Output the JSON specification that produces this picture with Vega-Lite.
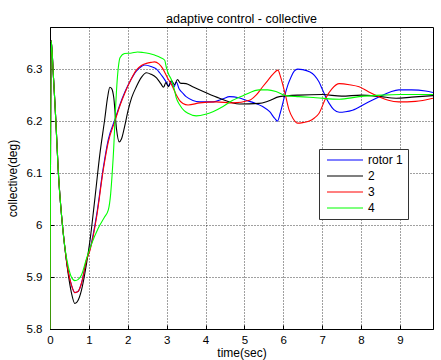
{
  "$schema": "https://vega.github.io/schema/vega-lite/v6.json",
  "autosize": {"type": "none"},
  "width": 383,
  "height": 302,
  "padding": {"left": 50, "top": 27, "right": 8, "bottom": 31},
  "background": "#ffffff",
  "title": {"text": "adaptive control - collective", "fontSize": 12.5, "fontWeight": "normal", "font": "Liberation Sans", "color": "#000000", "anchor": "middle", "frame": "group", "baseline": "alphabetic", "offset": 9, "dy": 17},
  "config": {
    "view": {"stroke": "#000000", "strokeWidth": 1},
    "font": "Liberation Sans",
    "axis": {"labelFont": "Liberation Sans", "titleFont": "Liberation Sans", "labelFontSize": 11.5, "titleFontSize": 12, "titleFontWeight": "normal", "labelColor": "#000", "titleColor": "#000", "domainColor": "#000", "tickColor": "#000", "gridColor": "#000", "gridDash": [1, 2], "gridOpacity": 0.75, "labelFlush": false, "labelOverlap": false, "tickSize": -4}
  },
  "data": {"values": [
    {"t":0,"v":5.8,"s":"rotor 1"},{"t":0.03,"v":6.355,"s":"rotor 1"},{"t":0.085,"v":6.29,"s":"rotor 1"},{"t":0.13,"v":6.23,"s":"rotor 1"},{"t":0.17,"v":6.17,"s":"rotor 1"},{"t":0.21,"v":6.108,"s":"rotor 1"},{"t":0.3,"v":6.016,"s":"rotor 1"},{"t":0.38,"v":5.958,"s":"rotor 1"},
    {"t":0.47,"v":5.91,"s":"rotor 1"},{"t":0.55,"v":5.885,"s":"rotor 1"},{"t":0.64,"v":5.87,"s":"rotor 1"},{"t":0.72,"v":5.872,"s":"rotor 1"},{"t":0.81,"v":5.888,"s":"rotor 1"},{"t":0.94,"v":5.933,"s":"rotor 1"},{"t":1.03,"v":5.954,"s":"rotor 1"},{"t":1.2,"v":6.02,"s":"rotor 1"},{"t":1.37,"v":6.11,"s":"rotor 1"},{"t":1.5,"v":6.165,"s":"rotor 1"},{"t":1.67,"v":6.203,"s":"rotor 1"},{"t":1.8,"v":6.232,"s":"rotor 1"},{"t":1.92,"v":6.255,"s":"rotor 1"},{"t":2.07,"v":6.278,"s":"rotor 1"},{"t":2.22,"v":6.296,"s":"rotor 1"},{"t":2.35,"v":6.305,"s":"rotor 1"},{"t":2.44,"v":6.308,"s":"rotor 1"},{"t":2.6,"v":6.305,"s":"rotor 1"},{"t":2.74,"v":6.3,"s":"rotor 1"},{"t":2.82,"v":6.293,"s":"rotor 1"},{"t":2.9,"v":6.285,"s":"rotor 1"},{"t":2.99,"v":6.275,"s":"rotor 1"},{"t":3.05,"v":6.268,"s":"rotor 1"},{"t":3.12,"v":6.276,"s":"rotor 1"},{"t":3.18,"v":6.265,"s":"rotor 1"},{"t":3.25,"v":6.275,"s":"rotor 1"},{"t":3.32,"v":6.262,"s":"rotor 1"},{"t":3.4,"v":6.255,"s":"rotor 1"},{"t":3.5,"v":6.247,"s":"rotor 1"},{"t":3.85,"v":6.237,"s":"rotor 1"},{"t":4.2,"v":6.237,"s":"rotor 1"},{"t":4.45,"v":6.243,"s":"rotor 1"},{"t":4.62,"v":6.247,"s":"rotor 1"},{"t":4.85,"v":6.245,"s":"rotor 1"},{"t":5.04,"v":6.24,"s":"rotor 1"},{"t":5.25,"v":6.235,"s":"rotor 1"},{"t":5.47,"v":6.228,"s":"rotor 1"},{"t":5.65,"v":6.218,"s":"rotor 1"},{"t":5.78,"v":6.205,"s":"rotor 1"},{"t":5.85,"v":6.2,"s":"rotor 1"},{"t":5.92,"v":6.215,"s":"rotor 1"},{"t":6.03,"v":6.247,"s":"rotor 1"},{"t":6.12,"v":6.27,"s":"rotor 1"},{"t":6.2,"v":6.285,"s":"rotor 1"},{"t":6.28,"v":6.296,"s":"rotor 1"},{"t":6.37,"v":6.3,"s":"rotor 1"},{"t":6.5,"v":6.299,"s":"rotor 1"},{"t":6.67,"v":6.295,"s":"rotor 1"},{"t":6.8,"v":6.288,"s":"rotor 1"},{"t":6.92,"v":6.275,"s":"rotor 1"},{"t":7.01,"v":6.26,"s":"rotor 1"},{"t":7.1,"v":6.245,"s":"rotor 1"},{"t":7.18,"v":6.234,"s":"rotor 1"},{"t":7.3,"v":6.222,"s":"rotor 1"},{"t":7.44,"v":6.217,"s":"rotor 1"},{"t":7.6,"v":6.218,"s":"rotor 1"},{"t":7.78,"v":6.221,"s":"rotor 1"},{"t":8.12,"v":6.234,"s":"rotor 1"},{"t":8.5,"v":6.248,"s":"rotor 1"},{"t":8.75,"v":6.256,"s":"rotor 1"},{"t":8.97,"v":6.26,"s":"rotor 1"},{"t":9.3,"v":6.26,"s":"rotor 1"},{"t":9.66,"v":6.258,"s":"rotor 1"},{"t":9.85,"v":6.255,"s":"rotor 1"},

    {"t":0,"v":5.8,"s":"2"},{"t":0.03,"v":6.355,"s":"2"},{"t":0.085,"v":6.29,"s":"2"},{"t":0.13,"v":6.23,"s":"2"},{"t":0.17,"v":6.17,"s":"2"},{"t":0.21,"v":6.108,"s":"2"},{"t":0.3,"v":6.016,"s":"2"},{"t":0.38,"v":5.958,"s":"2"},
    {"t":0.47,"v":5.905,"s":"2"},{"t":0.55,"v":5.87,"s":"2"},{"t":0.64,"v":5.849,"s":"2"},{"t":0.72,"v":5.855,"s":"2"},{"t":0.81,"v":5.875,"s":"2"},{"t":0.94,"v":5.926,"s":"2"},{"t":1.03,"v":5.971,"s":"2"},{"t":1.15,"v":6.048,"s":"2"},{"t":1.28,"v":6.135,"s":"2"},{"t":1.41,"v":6.205,"s":"2"},{"t":1.48,"v":6.245,"s":"2"},{"t":1.54,"v":6.265,"s":"2"},{"t":1.59,"v":6.262,"s":"2"},{"t":1.64,"v":6.245,"s":"2"},{"t":1.71,"v":6.185,"s":"2"},{"t":1.78,"v":6.16,"s":"2"},{"t":1.84,"v":6.166,"s":"2"},{"t":1.92,"v":6.19,"s":"2"},{"t":2.01,"v":6.221,"s":"2"},{"t":2.1,"v":6.245,"s":"2"},{"t":2.22,"v":6.266,"s":"2"},{"t":2.35,"v":6.284,"s":"2"},{"t":2.48,"v":6.293,"s":"2"},{"t":2.6,"v":6.29,"s":"2"},{"t":2.74,"v":6.283,"s":"2"},{"t":2.85,"v":6.272,"s":"2"},{"t":2.92,"v":6.265,"s":"2"},{"t":2.98,"v":6.274,"s":"2"},{"t":3.05,"v":6.266,"s":"2"},{"t":3.12,"v":6.278,"s":"2"},{"t":3.2,"v":6.27,"s":"2"},{"t":3.28,"v":6.28,"s":"2"},{"t":3.35,"v":6.273,"s":"2"},{"t":3.5,"v":6.272,"s":"2"},{"t":3.67,"v":6.266,"s":"2"},{"t":4.0,"v":6.255,"s":"2"},{"t":4.36,"v":6.244,"s":"2"},{"t":4.87,"v":6.233,"s":"2"},{"t":5.38,"v":6.234,"s":"2"},{"t":5.6,"v":6.238,"s":"2"},{"t":5.9,"v":6.247,"s":"2"},{"t":6.4,"v":6.25,"s":"2"},{"t":7.0,"v":6.251,"s":"2"},{"t":7.5,"v":6.248,"s":"2"},{"t":8.0,"v":6.25,"s":"2"},{"t":8.5,"v":6.247,"s":"2"},{"t":8.9,"v":6.244,"s":"2"},{"t":9.3,"v":6.246,"s":"2"},{"t":9.85,"v":6.249,"s":"2"},

    {"t":0,"v":5.8,"s":"3"},{"t":0.03,"v":6.355,"s":"3"},{"t":0.085,"v":6.29,"s":"3"},{"t":0.13,"v":6.23,"s":"3"},{"t":0.17,"v":6.17,"s":"3"},{"t":0.21,"v":6.108,"s":"3"},{"t":0.3,"v":6.016,"s":"3"},{"t":0.38,"v":5.958,"s":"3"},
    {"t":0.47,"v":5.91,"s":"3"},{"t":0.55,"v":5.885,"s":"3"},{"t":0.64,"v":5.87,"s":"3"},{"t":0.72,"v":5.872,"s":"3"},{"t":0.81,"v":5.888,"s":"3"},{"t":0.94,"v":5.933,"s":"3"},{"t":1.03,"v":5.952,"s":"3"},{"t":1.2,"v":6.016,"s":"3"},{"t":1.37,"v":6.106,"s":"3"},{"t":1.5,"v":6.16,"s":"3"},{"t":1.67,"v":6.2,"s":"3"},{"t":1.8,"v":6.23,"s":"3"},{"t":1.92,"v":6.253,"s":"3"},{"t":2.07,"v":6.278,"s":"3"},{"t":2.22,"v":6.298,"s":"3"},{"t":2.35,"v":6.307,"s":"3"},{"t":2.48,"v":6.311,"s":"3"},{"t":2.6,"v":6.313,"s":"3"},{"t":2.69,"v":6.314,"s":"3"},{"t":2.8,"v":6.31,"s":"3"},{"t":2.9,"v":6.301,"s":"3"},{"t":3.03,"v":6.282,"s":"3"},{"t":3.14,"v":6.268,"s":"3"},{"t":3.25,"v":6.25,"s":"3"},{"t":3.33,"v":6.24,"s":"3"},{"t":3.42,"v":6.234,"s":"3"},{"t":3.55,"v":6.231,"s":"3"},{"t":3.85,"v":6.235,"s":"3"},{"t":4.27,"v":6.237,"s":"3"},{"t":4.7,"v":6.235,"s":"3"},{"t":5.13,"v":6.24,"s":"3"},{"t":5.3,"v":6.25,"s":"3"},{"t":5.47,"v":6.266,"s":"3"},{"t":5.6,"v":6.278,"s":"3"},{"t":5.73,"v":6.29,"s":"3"},{"t":5.86,"v":6.298,"s":"3"},{"t":5.93,"v":6.285,"s":"3"},{"t":5.98,"v":6.272,"s":"3"},{"t":6.07,"v":6.245,"s":"3"},{"t":6.15,"v":6.221,"s":"3"},{"t":6.25,"v":6.205,"s":"3"},{"t":6.37,"v":6.196,"s":"3"},{"t":6.5,"v":6.197,"s":"3"},{"t":6.67,"v":6.2,"s":"3"},{"t":6.8,"v":6.206,"s":"3"},{"t":6.92,"v":6.215,"s":"3"},{"t":7.09,"v":6.244,"s":"3"},{"t":7.25,"v":6.262,"s":"3"},{"t":7.44,"v":6.272,"s":"3"},{"t":7.7,"v":6.27,"s":"3"},{"t":7.95,"v":6.266,"s":"3"},{"t":8.2,"v":6.256,"s":"3"},{"t":8.46,"v":6.247,"s":"3"},{"t":8.7,"v":6.24,"s":"3"},{"t":8.97,"v":6.237,"s":"3"},{"t":9.4,"v":6.238,"s":"3"},{"t":9.85,"v":6.244,"s":"3"},

    {"t":0,"v":5.8,"s":"4"},{"t":0.03,"v":6.355,"s":"4"},{"t":0.085,"v":6.29,"s":"4"},{"t":0.13,"v":6.23,"s":"4"},{"t":0.17,"v":6.17,"s":"4"},{"t":0.21,"v":6.108,"s":"4"},{"t":0.3,"v":6.016,"s":"4"},{"t":0.38,"v":5.958,"s":"4"},
    {"t":0.47,"v":5.92,"s":"4"},{"t":0.55,"v":5.9,"s":"4"},{"t":0.64,"v":5.893,"s":"4"},{"t":0.72,"v":5.895,"s":"4"},{"t":0.81,"v":5.904,"s":"4"},{"t":0.94,"v":5.936,"s":"4"},{"t":1.05,"v":5.96,"s":"4"},{"t":1.24,"v":5.994,"s":"4"},{"t":1.4,"v":6.015,"s":"4"},{"t":1.5,"v":6.029,"s":"4"},{"t":1.56,"v":6.06,"s":"4"},{"t":1.6,"v":6.1,"s":"4"},{"t":1.64,"v":6.15,"s":"4"},{"t":1.67,"v":6.2,"s":"4"},{"t":1.72,"v":6.27,"s":"4"},{"t":1.76,"v":6.305,"s":"4"},{"t":1.8,"v":6.322,"s":"4"},{"t":1.92,"v":6.33,"s":"4"},{"t":2.1,"v":6.331,"s":"4"},{"t":2.25,"v":6.333,"s":"4"},{"t":2.39,"v":6.332,"s":"4"},{"t":2.55,"v":6.33,"s":"4"},{"t":2.69,"v":6.327,"s":"4"},{"t":2.85,"v":6.322,"s":"4"},{"t":2.95,"v":6.317,"s":"4"},{"t":2.99,"v":6.304,"s":"4"},{"t":3.05,"v":6.29,"s":"4"},{"t":3.12,"v":6.28,"s":"4"},{"t":3.2,"v":6.26,"s":"4"},{"t":3.25,"v":6.244,"s":"4"},{"t":3.33,"v":6.232,"s":"4"},{"t":3.45,"v":6.22,"s":"4"},{"t":3.55,"v":6.215,"s":"4"},{"t":3.76,"v":6.21,"s":"4"},{"t":4.0,"v":6.213,"s":"4"},{"t":4.19,"v":6.218,"s":"4"},{"t":4.45,"v":6.228,"s":"4"},{"t":4.7,"v":6.24,"s":"4"},{"t":5.0,"v":6.25,"s":"4"},{"t":5.38,"v":6.26,"s":"4"},{"t":5.6,"v":6.26,"s":"4"},{"t":5.81,"v":6.257,"s":"4"},{"t":6.07,"v":6.249,"s":"4"},{"t":6.4,"v":6.247,"s":"4"},{"t":6.84,"v":6.245,"s":"4"},{"t":7.44,"v":6.242,"s":"4"},{"t":7.95,"v":6.247,"s":"4"},{"t":8.54,"v":6.25,"s":"4"},{"t":9.0,"v":6.251,"s":"4"},{"t":9.85,"v":6.251,"s":"4"}
  ]},
  "layer": [
    {
      "mark": {"type": "line", "strokeWidth": 1.1, "clip": true, "interpolate": "monotone"},
      "encoding": {
        "x": {"field": "t", "type": "quantitative", "scale": {"domain": [0, 9.85], "nice": false, "zero": false},
              "axis": {"values": [0,1,2,3,4,5,6,7,8,9], "title": "time(sec)", "labelPadding": 9, "titlePadding": 2, "format": "~g"}},
        "y": {"field": "v", "type": "quantitative", "scale": {"domain": [5.8, 6.381], "nice": false, "zero": false},
              "axis": {"values": [5.8,5.9,6.0,6.1,6.2,6.3], "title": "collective(deg)", "labelPadding": 12, "titlePadding": 7, "format": "~g"}},
        "color": {"field": "s", "type": "nominal",
                  "scale": {"domain": ["rotor 1","2","3","4"], "range": ["#0000ff","#000000","#ff0000","#00ff00"]},
                  "legend": {"title": null, "orient": "none", "legendX": 269, "legendY": 122, "fillColor": "#ffffff", "strokeColor": "#333333", "padding": 5, "symbolType": "stroke", "symbolSize": 1296, "symbolStrokeWidth": 1.2, "clipHeight": 12, "rowPadding": 4, "labelFontSize": 12, "labelFont": "Liberation Sans", "labelColor": "#000", "labelOffset": 4, "symbolOffset": 2}},
        "order": {"field": "t", "type": "quantitative"}
      }
    }
  ]
}
